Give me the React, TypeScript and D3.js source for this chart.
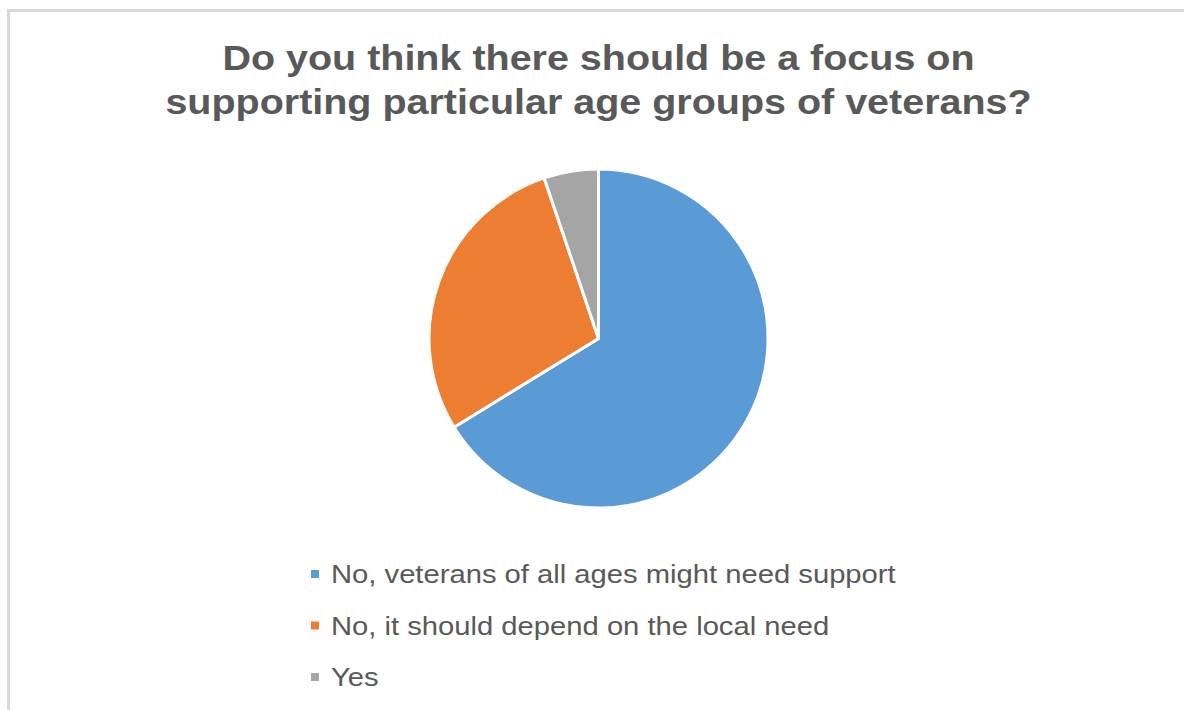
import React from "react";
import * as d3 from "d3";

const titleLines = [
  "Do you think there should be a focus on",
  "supporting particular age groups of veterans?",
];
const categories = [
  "No, veterans of all ages might need support",
  "No, it should depend on the local need",
  "Yes",
];
const values = [51, 22, 4];
const colors = ["#5B9BD5", "#ED7D31", "#A5A5A5"];

export default function App() {
  const W = 1184;
  const H = 710;
  const cx = 598.5;
  const cy = 338.5;
  const r = 169.5;
  const data = categories.map((c, i) => ({ c, v: values[i], color: colors[i] }));
  const pie = d3.pie<any>().value((d) => d.v).sort(null);
  const arc = d3.arc<any>().innerRadius(0).outerRadius(r);
  const arcs = pie(data);
  const legendY = d3.scaleLinear().domain([0, 1]).range([574, 625.5]);
  const font = "'Liberation Sans', Arial, sans-serif";
  return (
    <div style={{ position: "absolute", left: 0, top: 0 }}>
      <svg width={W} height={H} style={{ display: "block", background: "#fff" }}>
        <rect x={8.5} y={10.5} width={W + 20} height={H + 20} fill="#fff" stroke="#d9d9d9" strokeWidth={3} />
        <g fontFamily={font} fontWeight="bold" fontSize={35.5} fill="#595959" textAnchor="middle">
          {titleLines.map((t, i) => (
            <text key={i} transform={`translate(598.5,${70 + i * 43.5}) scale(1.112,1)`}>
              {t}
            </text>
          ))}
        </g>
        <g transform={`translate(${cx},${cy})`}>
          {arcs.map((a, i) => (
            <path key={i} d={arc(a) as string} fill={a.data.color} stroke="#fff" strokeWidth={3} strokeLinejoin="round" />
          ))}
        </g>
        <g fontFamily={font} fontSize={25} fill="#595959">
          {data.map((d, i) => (
            <g key={i} transform={`translate(0,${legendY(i)})`}>
              <rect x={311} y={-4} width={8} height={8} fill={d.color} />
              <text transform="translate(331,9) scale(1.168,1)">{d.c}</text>
            </g>
          ))}
        </g>
      </svg>
    </div>
  );
}
